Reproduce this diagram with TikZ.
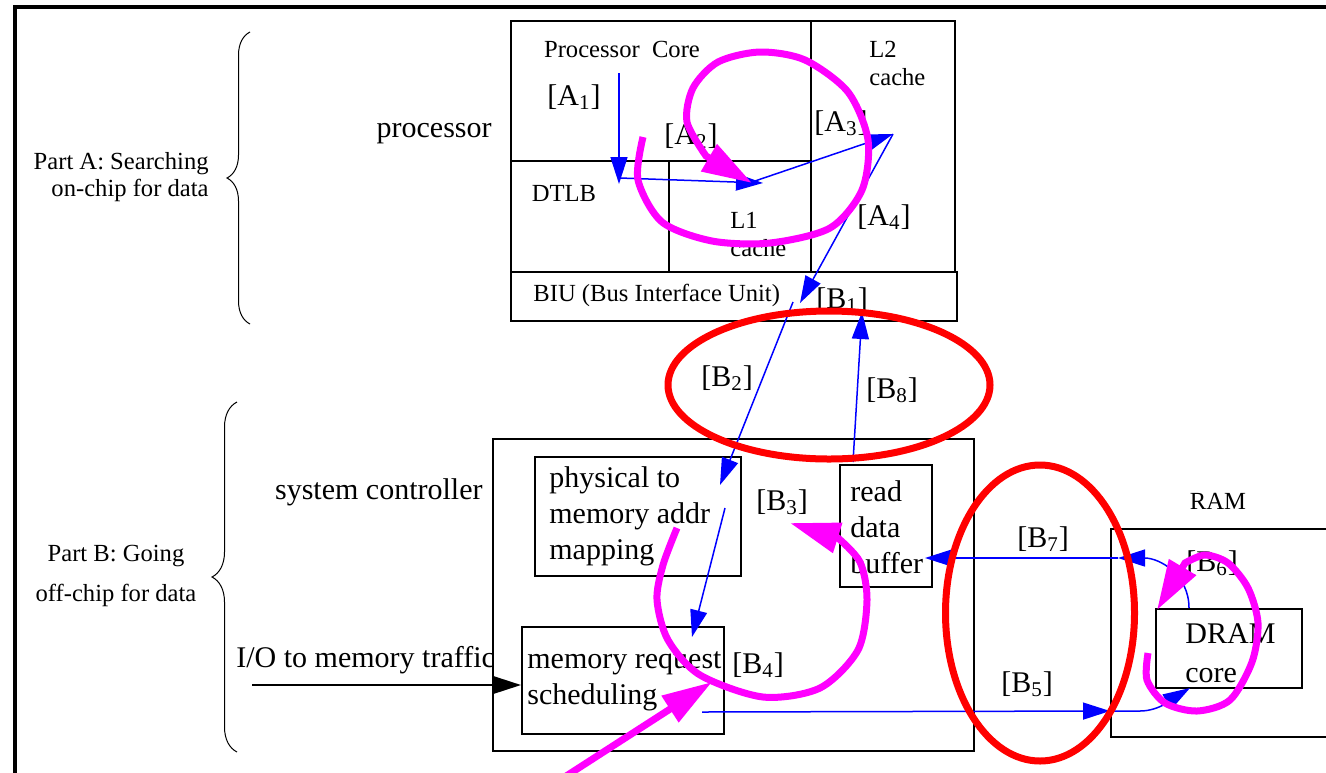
\documentclass[tikz,border=0pt]{standalone}
\usepackage{fontspec}
\setmainfont{Liberation Serif}
\usetikzlibrary{arrows.meta,decorations.pathreplacing}
\definecolor{pathpink}{RGB}{255,0,255}
\definecolor{ringred}{RGB}{255,0,0}
\definecolor{flowblue}{RGB}{0,0,255}
\begin{document}
\begin{tikzpicture}[x=0.5pt, y=-0.5pt,
	box/.style={draw, line width=1.3pt, anchor=north west, inner sep=0, outer sep=0},
	big/.style={font=\fontsize{15}{18}\selectfont, inner sep=0},
	small/.style={font=\fontsize{12.3}{14}\selectfont, inner sep=0},
	flow/.style={flowblue, line width=0.75pt, -{Triangle[length=13.5pt, width=8.5pt]}},
	spin/.style={pathpink, line width=3.5pt, -{Triangle[length=25pt, width=15pt]}},
	ring/.style={ringred, line width=3.5pt},
	brc/.style={decorate, line width=0.5pt}]
	\useasboundingbox (0,0) rectangle (1326,772);
	\clip (0,0) rectangle (1326,772);
	\draw[line width=1.7pt] (15,7) rectangle (1400,800);

	\node[box, minimum width=150pt, minimum height=70pt] (core) at (511,21) {};
	\node[box, minimum width=79pt, minimum height=55.5pt] (dtlb) at (511,161) {};
	\node[box, minimum width=71pt, minimum height=55.5pt] (l1) at (669,161) {};
	\node[box, minimum width=72pt, minimum height=125.5pt] (l2) at (811,21) {};
	\node[box, minimum width=223pt, minimum height=24.5pt] (biu) at (511,272) {};
	\node[box, minimum width=240.5pt, minimum height=156pt] (sysctl) at (493,439) {};
	\node[box, minimum width=103pt, minimum height=59.5pt] (mapping) at (535,457) {};
	\node[box, minimum width=101pt, minimum height=53.5pt] (sched) at (522,627) {};
	\node[box, minimum width=46pt, minimum height=61pt] (buffer) at (840,465) {};
	\node[box, minimum width=150pt, minimum height=104pt] (ram) at (1111,529) {};
	\node[box, minimum width=73pt, minimum height=39.5pt] (dram) at (1156,609) {};

	\node[small] (coretxt) at (622,49) {Processor~ Core};
	\node[small, align=left, anchor=west] (l2txt) at (869,63) {L2\\cache};
	\node[small] (dtlbtxt) at (564,193) {DTLB};
	\node[small, align=left, anchor=west] (l1txt) at (730,234) {L1\\cache};
	\node[small, anchor=west] (biutxt) at (533,295) {BIU (Bus Interface Unit)};
	\node[small] (ramtxt) at (1218,501) {RAM};
	\node[small, align=right, anchor=east, font=\fontsize{12.3}{13.5}\selectfont] (parta) at (209,177) {Part A: Searching\\on-chip for data};
	\node[small, align=center, font=\fontsize{12.3}{20}\selectfont] (partb) at (116,576) {Part B: Going\\off-chip for data};

	\node[big, anchor=east] (proc) at (492,134) {processor};
	\node[big, anchor=east] (sysname) at (483,492) {system controller};
	\node[big, anchor=west] (iotxt) at (236,660) {I/O to memory traffic};
	\node[big, align=left, anchor=west] (maptxt) at (549,516) {physical to\\memory addr\\mapping};
	\node[big, align=left, anchor=west] (schedtxt) at (527,681) {memory request\\scheduling};
	\node[big, align=left, anchor=west] (buftxt) at (850,527) {read\\data\\buffer};
	\node[big, align=left, anchor=west, font=\fontsize{15}{19.5}\selectfont] (dramtxt) at (1185,653) {DRAM\\core};

	\node[big] (la1) at (574,97) {[A\textsubscript{1}]};
	\node[big] (la2) at (691,136) {[A\textsubscript{2}]};
	\node[big] (la3) at (841,123) {[A\textsubscript{3}]};
	\node[big] (la4) at (884,217) {[A\textsubscript{4}]};
	\node[big] (lb1) at (842,300) {[B\textsubscript{1}]};
	\node[big] (lb2) at (727,378) {[B\textsubscript{2}]};
	\node[big] (lb3) at (782,502) {[B\textsubscript{3}]};
	\node[big] (lb4) at (758,665) {[B\textsubscript{4}]};
	\node[big] (lb5) at (1027,684) {[B\textsubscript{5}]};
	\node[big] (lb6) at (1212,563) {[B\textsubscript{6}]};
	\node[big] (lb7) at (1043,539) {[B\textsubscript{7}]};
	\node[big] (lb8) at (892,390) {[B\textsubscript{8}]};

	\coordinate (a1s) at (619,73);
	\coordinate (a1e) at (619,184);
	\coordinate (a2s) at (620,178);
	\coordinate (a2e) at (763,183);
	\coordinate (a3s) at (752,182);
	\coordinate (a3e) at (893,134);
	\coordinate (a4e) at (800,303);
	\coordinate (b2s) at (793,302);
	\coordinate (b2e) at (720,485);
	\coordinate (b3s) at (725,508);
	\coordinate (b3e) at (692,637);
	\coordinate (b8s) at (853,462);
	\coordinate (b8e) at (862,312);
	\coordinate (b7s) at (1118,558);
	\coordinate (b7e) at (925,558);
	\coordinate (b6s) at (1189,608);
	\coordinate (b5s) at (702,712);
	\coordinate (b5e) at (1110,711);
	\coordinate (b5t) at (1190,688);
	\coordinate (ios) at (252,685);
	\coordinate (ioe) at (521,685);
	\coordinate (trafs) at (560,780);
	\coordinate (trafe) at (712,682);

	\draw[flow] (a1s) -- (a1e);
	\draw[flow] (a2s) -- (a2e);
	\draw[flow] (a3s) -- (a3e);
	\draw[flow] (a3e) -- (a4e);
	\draw[flow] (b2s) -- (b2e);
	\draw[flow] (b3s) -- (b3e);
	\draw[flow] (b8s) -- (b8e);
	\draw[flow] (b7s) -- (b7e);
	\draw[flow] (b6s) .. controls (1189,575) and (1160,558) .. (b7s);
	\draw[flow] (b5s) -- (b5e);
	\draw[flow] (b5e) -- (1140,711) .. controls (1160,711) and (1175,697) .. (b5t);
	\draw[flow, black, line width=1pt] (ios) -- (ioe);

	\draw[brc, decoration={brace, amplitude=11.5pt}] (250,324) -- (250,32);
	\draw[brc, decoration={brace, amplitude=12.5pt}] (237,752) -- (237,402);

	\draw[ring] (829,385) ellipse [x radius=80.5pt, y radius=37pt];
	\draw[ring] (1040,613) ellipse [x radius=47.25pt, y radius=74pt];

	\draw[spin] plot[smooth] coordinates {(643,137) (638,180) (662,222) (712,241) (770,243) (830,228) (862,190) (868,140) (848,92) (805,60) (760,52) (718,62) (693,88) (687,122) (706,156)} -- (752,183);
	\draw[spin] plot[smooth] coordinates {(677,528) (663,565) (657,600) (668,640) (700,675) (763,697) (820,688) (858,650) (867,600) (860,562) (838,538)} -- (790,523);
	\draw[spin] plot[smooth] coordinates {(1148,653) (1147,680) (1165,703) (1197,711) (1230,700) (1252,662) (1258,623) (1248,588) (1228,563) (1205,555) (1185,563)} -- (1157,610);
	\draw[spin] (trafs) -- (trafe);
\end{tikzpicture}
\end{document}
